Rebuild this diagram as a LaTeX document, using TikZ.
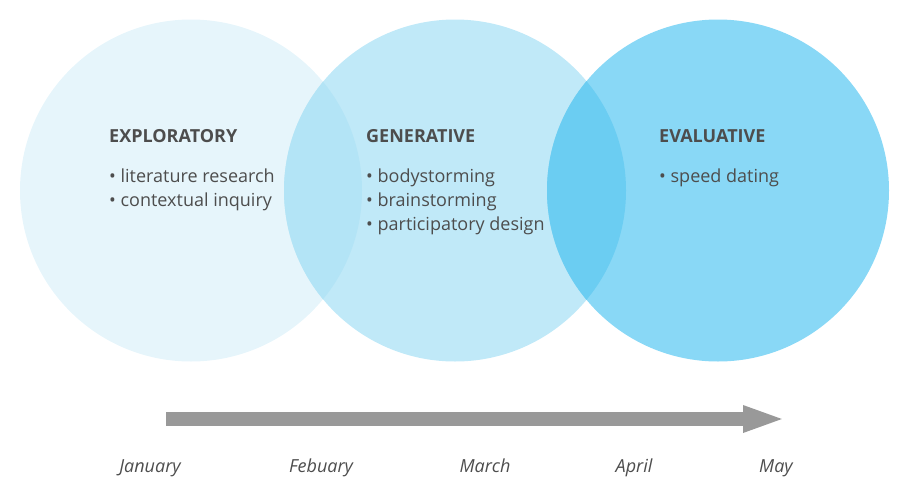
\documentclass[tikz,border=0pt]{standalone}
\usepackage{fontspec}
\setmainfont{Open Sans}
\usetikzlibrary{arrows.meta}
\definecolor{circA}{HTML}{E6F5FB}
\definecolor{circB}{HTML}{C0E9F8}
\definecolor{circC}{HTML}{89D8F6}
\definecolor{lensAB}{HTML}{B3E4F6}
\definecolor{lensBC}{HTML}{6BCDF2}
\definecolor{ink}{HTML}{4D4D4D}
\definecolor{timeline}{HTML}{999999}
\tikzset{
  phase/.style={circle, minimum size=342pt, inner sep=0pt, outer sep=0pt},
  head/.style={anchor=base west, inner sep=0pt, font=\fontsize{18}{20}\selectfont\bfseries, text=ink},
  item/.style={anchor=base west, inner sep=0pt, font=\fontsize{18}{20}\selectfont, text=ink},
  month/.style={anchor=base, inner sep=0pt, font=\fontsize{18}{20}\selectfont\itshape, text=ink},
}
\begin{document}
\begin{tikzpicture}[x=1pt, y=-1pt]
  \useasboundingbox (0,0) rectangle (910,498);
  % the three phases
  \node[phase, fill=circA] (exp) at (191,190.5) {};
  \node[phase, fill=circB] (gen) at (455,190.5) {};
  \node[phase, fill=circC] (eva) at (718,190.5) {};
  % overlapping lenses
  \begin{scope}
    \clip (exp.center) circle (171pt);
    \fill[lensAB] (gen.center) circle (171pt);
  \end{scope}
  \begin{scope}
    \clip (gen.center) circle (171pt);
    \fill[lensBC] (eva.center) circle (171pt);
  \end{scope}
  % labels
  \node[head] (hexp) at (109,142) {EXPLORATORY};
  \node[item] (iexpa) at (109,182) {• literature research};
  \node[item] (iexpb) at (109,206) {• contextual inquiry};
  \node[head] (hgen) at (366,142) {GENERATIVE};
  \node[item] (igena) at (366,182) {• bodystorming};
  \node[item] (igenb) at (366,206) {• brainstorming};
  \node[item] (igenc) at (366,230) {• participatory design};
  \node[head] (heva) at (659,142) {EVALUATIVE};
  \node[item] (ievaa) at (659,182) {• speed dating};
  % timeline
  \coordinate (tstart) at (166,419);
  \coordinate (tend) at (786,419);
  \draw[timeline, line width=14pt, -{Triangle[length=43pt, width=24pt]}] (tstart) -- (tend);
  \node[month] (jan) at (150,472) {January};
  \node[month] (feb) at (321,472) {Febuary};
  \node[month] (mar) at (485,472) {March};
  \node[month] (apr) at (634,472) {April};
  \node[month] (may) at (776,472) {May};
\end{tikzpicture}
\end{document}
